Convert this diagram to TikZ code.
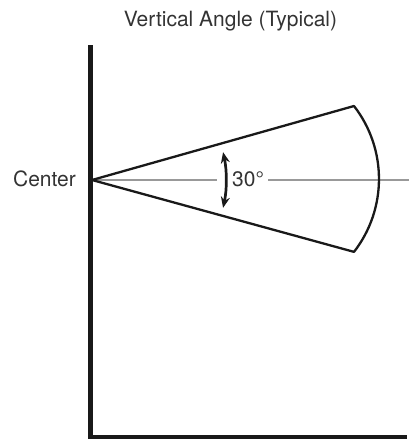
\documentclass[tikz,border=0pt]{standalone}
\usepackage{fontspec}
\setmainfont{TeX Gyre Heros}
\usetikzlibrary{arrows.meta}
\begin{document}
\begin{tikzpicture}[x=1pt,y=-1pt,
  axis/.style={line width=4.5pt,black!90},
  ray/.style={line width=2.3pt,black!90,line join=round},
  guide/.style={line width=1.8pt,black!40},
  lbl/.style={font=\fontsize{21}{25}\selectfont,text=black!80,inner sep=0pt},
  angarrow/.style={line width=2.7pt,black!90,{Stealth[length=11pt,width=9pt]}-{Stealth[length=11pt,width=9pt]}}]
\useasboundingbox (0,0) rectangle (409,445);
\coordinate (top) at (90.5,47);
\coordinate (corner) at (90.5,437);
\coordinate (right) at (405,437);
\coordinate (O) at (92,180);
\coordinate (A) at (354,106);
\coordinate (B) at (353,251);
\coordinate (g1) at (217,180);
\coordinate (g2) at (268,180);
\coordinate (g3) at (409,180);
\node[lbl,anchor=base] (title) at (230.5,26) {Vertical Angle (Typical)};
\node[lbl,anchor=base east] (center) at (76,186) {Center};
\node[lbl,anchor=base west] (deg) at (232,186) {30°};
\draw[guide] (O) -- (g1);
\draw[guide] (g2) -- (g3);
\draw[axis,line cap=rect] (top) -- (corner) -- (right);
\draw[ray] (O) -- (A) arc[start angle=-37.8,end angle=37.8,radius=119] -- (O);
\draw[angarrow] (O) ++(-12:134) arc[start angle=-12,end angle=12,radius=134];
\end{tikzpicture}
\end{document}
